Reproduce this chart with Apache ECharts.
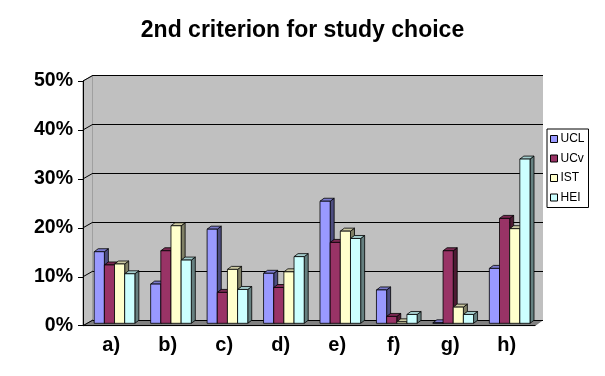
<!DOCTYPE html>
<html>
<head>
<meta charset="utf-8">
<script src="https://cdn.jsdelivr.net/npm/echarts@6/dist/echarts.min.js"></script>
<style>
html, body { margin: 0; padding: 0; background: #fff; }
#chart { width: 605px; height: 376px; }
</style>
</head>
<body>
<div id="chart"></div>
<script>
// categories and values (percent)
var categories = ['a)', 'b)', 'c)', 'd)', 'e)', 'f)', 'g)', 'h)'];
var seriesNames = ['UCL', 'UCv', 'IST', 'HEI'];
var ucl = [14.6, 8.0, 19.2, 10.2, 24.9, 6.8, 0.1, 11.2];
var ucv = [11.9, 14.8, 6.3, 7.3, 16.5, 1.4, 14.8, 21.4];
var ist = [12.1, 19.9, 11.0, 10.5, 18.8, 0.3, 3.3, 19.3];
var hei = [10.1, 12.9, 6.9, 13.6, 17.3, 1.8, 1.8, 33.5];
var yMax = 50;
var yStep = 10;

var values = [ucl, ucv, ist, hei];
var fronts = ['#9999ff', '#993366', '#ffffcc', '#ccffff'];
var tops = ['#7a7acc', '#7a2952', '#ccc9a3', '#a3cccc'];
var sides = ['#4d4d80', '#4d1a33', '#808066', '#668080'];

var font = 'Liberation Sans, Arial, sans-serif';

// layout of the 3d box
var fL = 83, fT = 81, fB = 325.7, fW = 452;   // front plane (axes)
var bL = 93, bT = 75.3, bB = 320, bW = 450;   // back wall
var dep = 4, depY = 3;                        // bar depth

function renderBar(params, api) {
	var s = params.seriesIndex;
	var c = api.value(0);
	var v = api.value(1);
	var catW = api.size([1, 0])[0];
	var groupW = catW * 0.72;
	var bw = groupW / 4;
	var base = api.coord([c, 0]);
	var top = api.coord([c, v]);
	var x0 = base[0] - groupW / 2 + s * bw;
	var x1 = x0 + bw;
	var y0 = top[1], y1 = base[1];
	var line = { stroke: '#000', lineWidth: 0.8 };
	return {
		type: 'group',
		children: [{
			type: 'polygon',
			shape: { points: [[x1, y0], [x1 + dep, y0 - depY], [x1 + dep, y1 - depY], [x1, y1]] },
			style: Object.assign({ fill: sides[s] }, line)
		}, {
			type: 'polygon',
			shape: { points: [[x0, y0], [x0 + dep, y0 - depY], [x1 + dep, y0 - depY], [x1, y0]] },
			style: Object.assign({ fill: tops[s] }, line)
		}, {
			type: 'rect',
			shape: { x: x0, y: y0, width: bw, height: y1 - y0 },
			style: Object.assign({ fill: fronts[s] }, line)
		}]
	};
}

// side wall, floor and the diagonal edges
var deco = [{
	type: 'polygon',
	shape: { points: [[fL, fT], [bL, bT], [bL, bB], [fL, fB]] },
	style: { fill: '#c0c0c0', stroke: '#808080', lineWidth: 1 },
	z: -1
}, {
	type: 'polygon',
	shape: { points: [[fL, fB], [bL, bB], [bL + bW, bB], [fL + fW, fB]] },
	style: { fill: '#808080', stroke: '#606060', lineWidth: 0.5 },
	z: -1
}];
for (var k = 0; k <= yMax / yStep; k++) {
	var yf = fB - (fB - fT) * k / (yMax / yStep);
	var yb = bB - (bB - bT) * k / (yMax / yStep);
	deco.push({
		type: 'line',
		shape: { x1: fL, y1: yf, x2: bL, y2: yb },
		style: { stroke: '#000', lineWidth: 1 },
		z: 0
	});
}

var myChart = echarts.init(document.getElementById('chart'));
var option = {
	animation: false,
	backgroundColor: '#fff',
	title: {
		text: '2nd criterion for study choice',
		left: 'center',
		top: 14,
		textStyle: { fontFamily: font, fontSize: 23, fontWeight: 'bold', color: '#000' }
	},
	legend: {
		orient: 'vertical',
		left: 547,
		top: 129,
		padding: [4, 4, 4, 3],
		itemGap: 7.5,
		itemWidth: 7,
		itemHeight: 7,
		borderColor: '#000',
		borderWidth: 1,
		icon: 'rect',
		textStyle: { fontFamily: font, fontSize: 12, color: '#000', padding: [0, 0, 0, -2] },
		data: seriesNames.map(function (n, i) {
			return { name: n, itemStyle: { color: fronts[i], borderColor: '#000', borderWidth: 1 } };
		})
	},
	graphic: deco,
	grid: [
		{ left: bL, top: bT, width: bW, height: bB - bT, show: true, backgroundColor: '#c0c0c0', borderWidth: 0 },
		{ left: fL, top: fT, width: fW, height: fB - fT },
		{ left: 86.3, top: 78.2, width: 451.6, height: 323.3 - 78.2 }
	],
	xAxis: [
		{ gridIndex: 0, type: 'category', data: categories, show: false },
		{
			gridIndex: 1, type: 'category', data: categories,
			axisLine: { lineStyle: { color: '#000', width: 1 } },
			axisTick: { length: 5, lineStyle: { color: '#000' } },
			axisLabel: { margin: 10, fontFamily: font, fontSize: 20, fontWeight: 'bold', color: '#000' }
		},
		{ gridIndex: 2, type: 'category', data: categories, show: false }
	],
	yAxis: [
		{
			gridIndex: 0, type: 'value', min: 0, max: yMax, interval: yStep,
			axisLine: { show: false }, axisTick: { show: false }, axisLabel: { show: false },
			splitLine: { lineStyle: { color: '#000', width: 1 } }
		},
		{
			gridIndex: 1, type: 'value', min: 0, max: yMax, interval: yStep,
			axisLine: { show: true, lineStyle: { color: '#000', width: 1 } },
			axisTick: { show: true, length: 5, lineStyle: { color: '#000' } },
			axisLabel: { margin: 10, formatter: '{value}%', fontFamily: font, fontSize: 19.5, fontWeight: 'bold', color: '#000' },
			splitLine: { show: false }
		},
		{ gridIndex: 2, type: 'value', min: 0, max: yMax, show: false, splitLine: { show: false } }
	],
	series: seriesNames.map(function (n, i) {
		return {
			name: n,
			type: 'custom',
			xAxisIndex: 2,
			yAxisIndex: 2,
			itemStyle: { color: fronts[i] },
			renderItem: renderBar,
			data: values[i].map(function (v, c) { return [c, v]; }),
			z: 5
		};
	})
};
myChart.setOption(option);
</script>
</body>
</html>
